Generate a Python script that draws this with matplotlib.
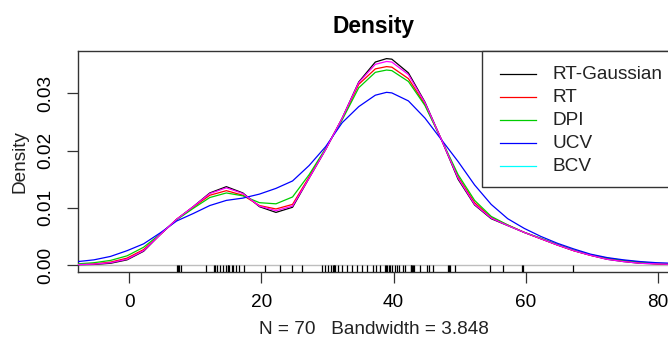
import matplotlib
matplotlib.use("Agg")
import matplotlib.pyplot as plt
from matplotlib.patches import Rectangle
from matplotlib.lines import Line2D
import matplotlib.transforms as mtransforms

plt.rcParams['font.family'] = ['Liberation Sans', 'DejaVu Sans']

# ---- data ----
x_grid = [-7.77, -5.36, -2.85, -0.35, 2.16, 4.66, 7.17, 9.67, 12.18, 14.69, 17.19,
          19.70, 22.20, 24.71, 27.22, 29.72, 32.23, 34.73, 37.24, 38.94, 39.74,
          42.25, 44.75, 47.26, 49.77, 52.27, 54.78, 57.28, 59.79, 62.29, 64.80,
          67.30, 69.81, 72.32, 74.82, 77.33, 79.83, 82.34, 84.84]

rt_gaussian = [0.00005, 0.0001, 0.0003, 0.0009, 0.0024, 0.0053, 0.0080, 0.0102, 0.0126, 0.0137, 0.0126,
               0.0102, 0.0092, 0.0101, 0.0152, 0.0202, 0.0257, 0.0320, 0.0355, 0.0361, 0.0360,
               0.0336, 0.0285, 0.0219, 0.0150, 0.0105, 0.0081, 0.0069, 0.0057, 0.0046, 0.0035,
               0.0025, 0.0017, 0.0010, 0.0006, 0.0003, 0.0002, 0.0001, 0.00005]
rt = [0.0001, 0.0002, 0.0005, 0.0012, 0.0027, 0.0053, 0.0080, 0.0101, 0.0122, 0.0130, 0.0122,
      0.0104, 0.0098, 0.0106, 0.0154, 0.0203, 0.0256, 0.0316, 0.0343, 0.0347, 0.0346,
      0.0326, 0.0281, 0.0219, 0.0154, 0.0109, 0.0083, 0.0070, 0.0057, 0.0046, 0.0035,
      0.0025, 0.0017, 0.0011, 0.0007, 0.0004, 0.0002, 0.0001, 0.00005]
dpi_bw = [0.0002, 0.0004, 0.0008, 0.0016, 0.0031, 0.0054, 0.0079, 0.0099, 0.0118, 0.0126, 0.0121,
          0.0109, 0.0107, 0.0119, 0.0158, 0.0204, 0.0254, 0.0310, 0.0337, 0.0341, 0.0340,
          0.0321, 0.0279, 0.0219, 0.0158, 0.0113, 0.0085, 0.0070, 0.0057, 0.0047, 0.0036,
          0.0026, 0.0018, 0.0012, 0.0008, 0.0005, 0.0003, 0.0002, 0.0001]
ucv = [0.0006, 0.0009, 0.0015, 0.0025, 0.0037, 0.0056, 0.0077, 0.0090, 0.0104, 0.0113, 0.0117,
       0.0124, 0.0134, 0.0147, 0.0174, 0.0207, 0.0249, 0.0277, 0.0297, 0.0302, 0.0301,
       0.0287, 0.0257, 0.0219, 0.0181, 0.0140, 0.0106, 0.0081, 0.0064, 0.0050, 0.0038,
       0.0028, 0.0019, 0.0013, 0.0009, 0.0006, 0.0004, 0.0003, 0.0002]
bcv = [0.00007, 0.00015, 0.0004, 0.0010, 0.0025, 0.0053, 0.0080, 0.0102, 0.0125, 0.0135, 0.0125,
       0.0103, 0.0095, 0.0103, 0.0152, 0.0202, 0.0257, 0.0319, 0.0351, 0.0356, 0.0355,
       0.0333, 0.0284, 0.0219, 0.0152, 0.0106, 0.0082, 0.0069, 0.0057, 0.0046, 0.0035,
       0.0025, 0.0017, 0.0010, 0.0006, 0.0003, 0.0002, 0.0001, 0.00005]

rug_x = [7.22, 7.30, 7.52, 7.83, 11.61, 12.82, 12.90, 13.28, 13.66, 14.11, 14.64, 14.87, 14.94,
         15.09, 15.55, 15.70, 16.15, 16.61, 17.37, 20.55,
         22.82, 24.59, 26.10, 29.13, 29.63, 30.13, 30.54, 30.84, 30.92, 30.99, 31.14, 31.64,
         32.16, 32.91, 33.67, 34.43, 35.19, 35.94,
         36.85, 37.35, 37.96, 38.71, 38.86, 39.02, 39.24, 39.47, 39.77, 40.23, 40.53, 40.88,
         41.48, 41.74, 42.57, 42.65, 42.80, 42.95, 43.10, 44.01, 45.03, 45.42, 46.03, 48.18,
         48.33, 48.48, 49.31,
         54.61, 56.62, 59.41, 59.65, 67.18]

series_names = ["RT-Gaussian", "RT", "DPI", "UCV", "BCV"]
legend_colors = ["black", "#ff0000", "#00cd00", "#0000ff", "#00ffff"]
x_ticks = [0, 20, 40, 60, 80]
y_ticks = [0.00, 0.01, 0.02, 0.03]
y_ticklabels = ["0.00", "0.01", "0.02", "0.03"]

W, H = 668, 338
fig = plt.figure(figsize=(W / 100, H / 100), dpi=100)

L, R, T, B = 78, 669, 51, 272
ax = fig.add_axes([L / W, 1 - B / H, (R - L) / W, (B - T) / H])
ax.set_xlim(-7.77, 81.7)
ax.set_ylim(-0.001225, 0.03743)

FS = 13.7
ax.axhline(0, color="#bebebe", lw=1.0, zorder=1)
ax.plot(x_grid, rt_gaussian, color="black", lw=0.9, zorder=2)
ax.plot(x_grid, rt, color="#ff0000", lw=0.9, zorder=3)
ax.plot(x_grid, dpi_bw, color="#00cd00", lw=0.9, zorder=4)
ax.plot(x_grid, ucv, color="#0000ff", lw=0.9, zorder=5)
ax.plot(x_grid, bcv, color="#ff00ff", lw=0.9, zorder=6)

trans = mtransforms.blended_transform_factory(ax.transData, ax.transAxes)
ax.vlines(rug_x, 0, 0.03, transform=trans, color="black", lw=0.9, zorder=7)

for s in ax.spines.values():
    s.set_color("#333333")
    s.set_linewidth(1.0)

ax.set_xticks(x_ticks)
ax.set_xticklabels([str(v) for v in x_ticks])
ax.set_yticks(y_ticks)
ax.set_yticklabels(y_ticklabels, rotation=90, va="center")
ax.tick_params(axis="both", direction="out", length=7.9, width=0.9, color="#333333",
               labelsize=FS, colors="#333333", labelcolor="black")
ax.tick_params(axis="x", pad=8)
ax.tick_params(axis="y", pad=9)

# Legend (R-style box at top right)
lx0 = (482 - L) / (R - L)
ly0 = (B - 187) / (B - T)
ax.add_patch(Rectangle((lx0, ly0), 1.2 - lx0, 1 - ly0, transform=ax.transAxes,
                       facecolor="white", edgecolor="#333333", lw=1.0, zorder=10, clip_on=False))
hx0 = (500 - L) / (R - L)
hx1 = (536 - L) / (R - L)
tx = (552 - L) / (R - L)
rows_px = [74.3, 97.3, 120.3, 143.3, 166.3]
for name, col, ypx in zip(series_names, legend_colors, rows_px):
    yy = (B - ypx) / (B - T)
    ax.add_line(Line2D([hx0, hx1], [yy, yy], transform=ax.transAxes, color=col, lw=0.9,
                       zorder=11, clip_on=False))
    ax.text(tx, yy, name, transform=ax.transAxes, fontsize=FS, va="center", ha="left",
            color="#222222", zorder=12, clip_on=False)

cx = ((L + R) / 2) / W
fig.text(cx, 1 - 26 / H, "Density", ha="center", va="center", fontsize=16.4, fontweight="bold")
fig.text(cx, 1 - 329 / H, "N = 70   Bandwidth = 3.848", ha="center", va="center", fontsize=FS,
         color="#222222")
fig.text(20.5 / W, 1 - ((T + B) / 2) / H, "Density", rotation=90, ha="center", va="center",
         fontsize=FS, color="#222222")

fig.savefig("out.png", dpi=100)
